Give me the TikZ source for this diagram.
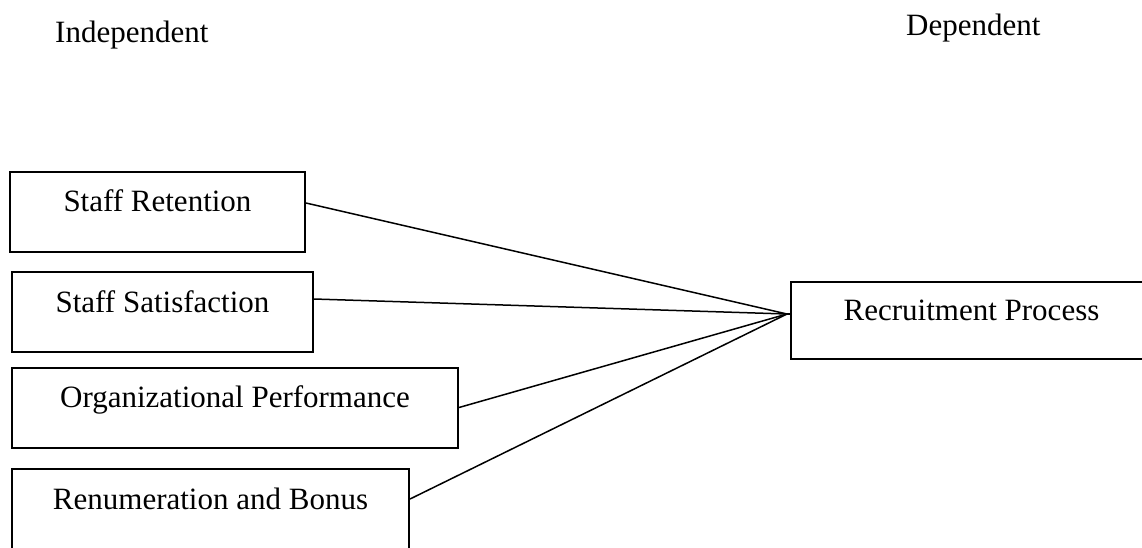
\documentclass[tikz,border=0pt]{standalone}
\usepackage{fontspec}
\setmainfont{Liberation Serif}
\begin{document}
\begin{tikzpicture}[x=1pt,y=-1pt,
  box/.style={draw,line width=2pt,inner sep=0pt,text height=40pt,text depth=40pt,font=\fontsize{31}{31}\selectfont},
  head/.style={inner sep=0pt,anchor=base west,font=\fontsize{31}{31}\selectfont},
  link/.style={line width=1.5pt}]
\clip (0,0) rectangle (1142,547);
\fill[white] (0,0) rectangle (1142,547);
\node[head] (ind) at (55,42) {Independent};
\node[head] (dep) at (906,35) {Dependent};
\node[box,minimum width=295pt] (b1) at (157.5,211.5) {Staff Retention};
\node[box,minimum width=301pt] (b2) at (162.5,312) {Staff Satisfaction};
\node[box,minimum width=446pt] (b3) at (235,407.5) {Organizational Performance};
\node[box,minimum width=397pt] (b4) at (210.5,509) {Renumeration and Bonus};
\node[box,minimum width=361pt,text height=38.5pt,text depth=38.5pt] (rp) at (971.5,320.5) {Recruitment Process};
\coordinate (c) at (787,314);
\draw[link] ([yshift=8.5pt]b1.east) -- (c);
\draw[link] ([yshift=13pt]b2.east) -- (c);
\draw[link] (b3.east) -- (c);
\draw[link] ([yshift=10pt]b4.east) -- (c);
\draw[link] (c) -- (rp.west |- c);
\end{tikzpicture}
\end{document}
